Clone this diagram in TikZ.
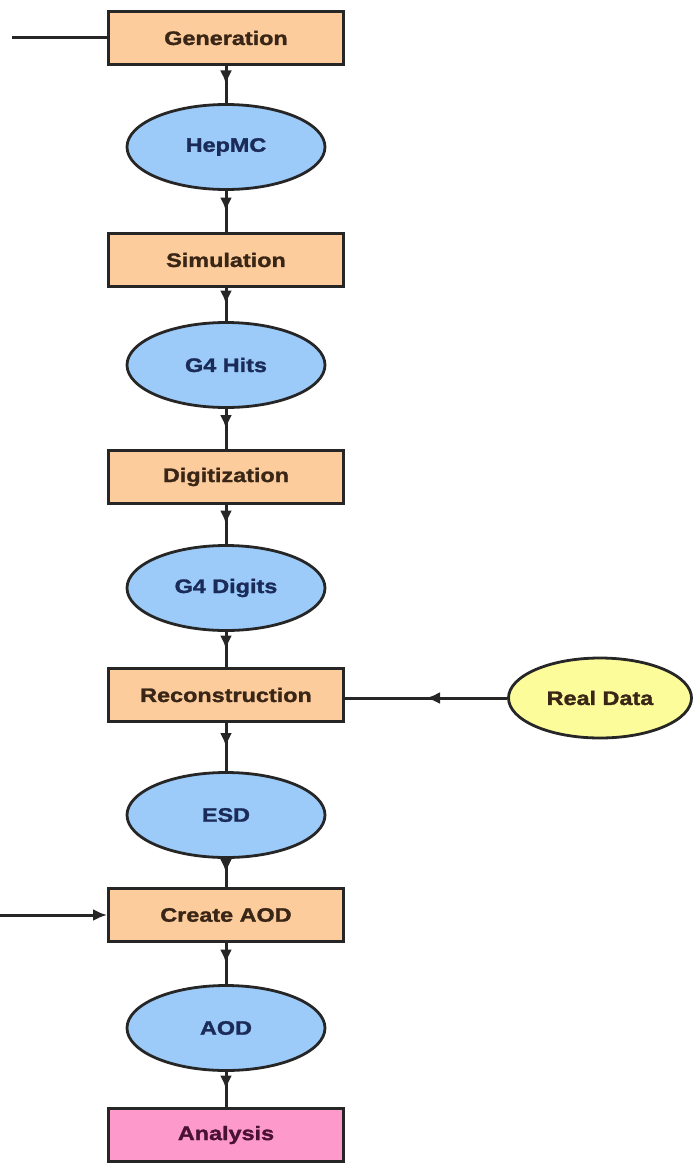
\documentclass[tikz,border=0pt]{standalone}
\usepackage{fontspec}
\newfontfamily\lab{Liberation Sans}[FakeStretch=1.2,FakeBold=1.5]
\usetikzlibrary{shapes.geometric,arrows.meta,decorations.markings}
\definecolor{boxfill}{HTML}{FCCC9C}
\definecolor{ellfill}{HTML}{9CCBFA}
\definecolor{realfill}{HTML}{FDFC9A}
\definecolor{anafill}{HTML}{FD9ACB}
\definecolor{boxtext}{HTML}{3A2616}
\definecolor{elltext}{HTML}{1B2B58}
\definecolor{anatext}{HTML}{4A1232}
\tikzset{
  x=1pt, y=1pt,
  every node/.style={font=\lab\bfseries\fontsize{19.5}{22}\selectfont, line width=2.8pt, draw=black!85},
  stepbox/.style={rectangle, fill=boxfill, text=boxtext, minimum width=235pt, minimum height=53pt, inner sep=0pt},
  anabox/.style={stepbox, fill=anafill, text=anatext},
  dataell/.style={ellipse, fill=ellfill, text=elltext, minimum width=198pt, minimum height=85pt, inner sep=0pt},
  realell/.style={dataell, fill=realfill, text=boxtext, minimum width=183pt, minimum height=80pt},
  conn/.style={line width=3pt, draw=black!85},
  midarrow/.style={conn, postaction={decorate}, decoration={markings, mark=at position 0.5 with {\arrow{Latex[length=14pt,width=12pt]}}}},
  endarrow/.style={conn, -{Latex[length=14pt,width=12pt]}}
}
\begin{document}
\begin{tikzpicture}
\useasboundingbox (0,0) rectangle (697,-1164);
\node[stepbox] (gen) at (226,-38) {Generation};
\node[dataell] (hep) at (226,-147) {HepMC};
\node[stepbox] (sim) at (226,-260) {Simulation};
\node[dataell] (hits) at (226,-365) {G4 Hits};
\node[stepbox] (dig) at (226,-477) {Digitization};
\node[dataell] (digits) at (226,-588) {G4 Digits};
\node[stepbox] (rec) at (226,-695) {Reconstruction};
\node[realell] (real) at (600,-698) {Real Data};
\node[dataell] (esd) at (226,-815) {ESD};
\node[stepbox] (aod) at (226,-915) {Create AOD};
\node[dataell] (aodd) at (226,-1028) {AOD};
\node[anabox] (ana) at (226,-1135) {Analysis};
\coordinate (genin) at (12,-38);
\coordinate (aodin) at (0,-915);
\draw[conn] (genin) -- (gen.west);
\draw[endarrow] (aodin) -- (aod.west);
\draw[midarrow] (gen) -- (hep);
\draw[midarrow] (hep) -- (sim);
\draw[midarrow] (sim) -- (hits);
\draw[midarrow] (hits) -- (dig);
\draw[midarrow] (dig) -- (digits);
\draw[midarrow] (digits) -- (rec);
\draw[midarrow] (real.west) -- (rec.east |- real.west);
\draw[midarrow] (rec) -- (esd);
\draw[midarrow] (esd) -- (aod);
\draw[midarrow] (aod) -- (aodd);
\draw[midarrow] (aodd) -- (ana);
\end{tikzpicture}
\end{document}
